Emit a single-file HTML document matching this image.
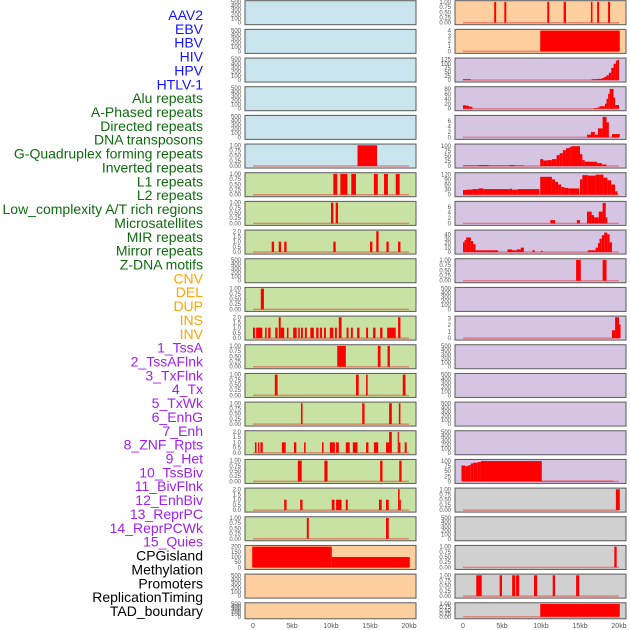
<!DOCTYPE html>
<html><head><meta charset="utf-8"><style>
html,body{margin:0;padding:0;background:#fff;width:630px;height:630px;overflow:hidden}
svg{display:block}
</style></head><body>
<svg id="chart" width="630" height="630" viewBox="0 0 630 630" xmlns="http://www.w3.org/2000/svg"></svg>
<script>
// ---- labels ----
const trackLabels = ["AAV2","EBV","HBV","HIV","HPV","HTLV-1","Alu repeats","A-Phased repeats","Directed repeats","DNA transposons","G-Quadruplex forming repeats","Inverted repeats","L1 repeats","L2 repeats","Low_complexity A/T rich regions","Microsatellites","MIR repeats","Mirror repeats","Z-DNA motifs","CNV","DEL","DUP","INS","INV","1_TssA","2_TssAFlnk","3_TxFlnk","4_Tx","5_TxWk","6_EnhG","7_Enh","8_ZNF_Rpts","9_Het","10_TssBiv","11_BivFlnk","12_EnhBiv","13_ReprPC","14_ReprPCWk","15_Quies","CPGisland","Methylation","Promoters","ReplicationTiming","TAD_boundary"];
const labelGroups = [6,13,5,15,5];
const groupColors = ["#1414ff","#0f6b0f","#ffa500","#a020f0","#000000"];
const xTickLabels = ["0","5kb","10kb","15kb","20kb"];
const xTickValues = [0,5,10,15,20];

// ---- tick label sets ----
const t01 = ["0.00","0.25","0.50","0.75","1.00"];
const t500 = ["0","100","200","300","400","500"];
const t02 = ["0.0","0.5","1.0","1.5","2.0"];
const t04 = ["0","1","2","3","4"];
const t125 = ["0","25","50","75","100","125"];
const t80 = ["0","20","40","60","80"];
const t6 = ["0","2","4","6"];
const t100 = ["0","25","50","75","100"];
const t120 = ["0","30","60","90","120"];
const t40 = ["0","10","20","30","40"];
const t3 = ["0","1","2","3"];
const t200 = ["0","50","100","150","200"];

// ---- data: [startKb, endKb, value] ----
const c1r5 = [[13.4,15.9,1]];
const c1r6 = [[10.3,10.8,1],[11.2,12.1,1],[12.6,13.2,1],[15.5,16,1],[16.8,17.3,1],[18.3,18.8,1]];
const c1r7 = [[10,10.3,1],[10.6,10.9,1]];
const c1r8 = [[2.4,2.7,1],[3.3,3.6,1],[4.0,4.3,1],[10.3,10.6,1],[15.0,15.3,1],[15.8,16.1,2],[17.1,17.4,1],[18.6,18.9,1]];
const c1r10 = [[1.0,1.4,1]];
const c1r11 = [[0,0.25,1],[0.4,1.2,1],[1.55,1.75,1],[1.95,2.25,1],[2.85,3.15,1],[3.3,3.55,2],[3.55,4.0,1],[4.35,4.55,1],[5.15,5.6,1],[5.8,6.0,1],[6.15,6.4,1],[6.65,6.9,1],[7.35,7.8,1],[8.1,8.4,1],[8.6,8.85,1],[9.1,9.35,1],[9.85,10.3,1],[10.5,10.75,1],[11.0,11.35,2],[12.0,12.25,1],[12.55,12.8,1],[13.35,13.65,1],[14.5,14.75,1],[15.4,15.7,1],[16.3,16.6,1],[17.2,18.3,1],[18.6,18.9,2]];
const c1r12 = [[10.8,11.9,1],[16.0,16.35,1],[17.25,17.55,1]];
const c1r13 = [[2.8,3.15,1],[13.2,13.55,1],[14.5,14.7,1],[19.2,19.55,1]];
const c1r14 = [[6.15,6.35,1],[14.0,14.3,1],[17.45,17.8,1],[18.7,18.9,1]];
const c1r15 = [[0.25,0.45,1],[0.65,0.8,1],[0.95,1.25,1],[3.7,4.2,1],[5.25,5.55,1],[6.55,6.75,1],[8.85,9.05,1],[9.85,10.5,1],[10.65,11.0,1],[11.9,12.4,1],[12.8,13.4,1],[14.5,14.8,1],[15.5,16.05,1],[17.05,17.45,1],[17.45,17.8,2],[18.55,18.7,2],[18.7,18.9,1],[19.45,19.7,1]];
const c1r16 = [[5.75,6.25,1],[9.15,9.55,1],[16.3,16.6,1],[18.75,19.05,1]];
const c1r17 = [[4.0,4.3,1],[6.05,6.35,1],[10.1,10.45,1],[10.65,11.35,1],[11.9,12.15,1],[16.15,16.5,1],[17.05,17.4,1],[18.6,18.8,2],[18.8,18.95,1]];
const c1r18 = [[6.9,7.15,1],[17.05,17.4,1]];
const c1r19 = [[-0.1,10.1,200],[10.1,20.1,100]];

const c2r0 = [[4.0,4.25,1],[5.3,5.55,1],[10.8,11.05,1],[12.9,13.2,1],[16.4,16.6,1],[17.2,17.45,1],[18.6,18.85,1]];
const c2r1 = [[9.9,20.1,4]];
const c2r2 = [[0,1,5],[16.5,17,5],[17,17.4,6],[17.4,17.8,8],[17.8,18.1,12],[18.1,18.4,20],[18.4,18.7,30],[18.7,19,45],[19,19.3,75],[19.3,19.6,100],[19.6,19.8,120],[19.8,20,125]];
const c2r3 = [[0,0.4,14],[0.4,0.8,12],[0.8,1.2,8],[16.8,17.2,3],[17.2,17.5,5],[17.5,18.2,10],[18.2,18.4,20],[18.4,18.6,40],[18.6,18.8,60],[18.8,19.3,80],[19.3,19.5,45],[19.5,20,15]];
const c2r4 = [[15.9,16.4,1],[16.4,16.9,2],[16.9,17.3,1],[17.3,17.9,3.3],[17.9,18.4,7.5],[18.4,18.7,5.5],[19.1,20.1,1.2]];
const c2r5 = [[0,2,3],[2,3.3,5],[3.3,6,3],[6,6.6,5],[6.6,7.8,3],[9.9,10.3,35],[10.3,10.8,28],[10.8,11.4,30],[11.4,12,35],[12,12.4,55],[12.4,12.8,65],[12.8,13.2,80],[13.2,13.6,90],[13.6,13.9,95],[13.9,15,100],[15,15.3,60],[15.3,15.6,30],[15.6,17.2,22],[17.2,17.8,15],[17.8,18.4,8]];
const c2r6 = [[0,0.5,28],[0.5,1.2,30],[1.2,2,33],[2,2.6,37],[2.6,6,33],[6,6.3,35],[6.3,7,30],[7,9.8,33],[9.9,11.4,105],[11.4,11.8,90],[11.8,12.2,75],[12.2,12.6,60],[12.6,13,45],[13,13.5,40],[13.5,14.9,37],[15,15.3,90],[15.3,16,115],[16,17,112],[17,18,118],[18,18.5,100],[18.5,19,85],[19,19.5,60],[19.5,19.8,20]];
const c2r7 = [[11.2,11.8,1.2],[14.6,15.0,1.2],[15.9,16.5,4.3],[16.5,16.8,3],[16.8,17.4,2.2],[17.4,17.9,4.3],[17.9,18.3,7.5],[18.3,18.5,2.2]];
const c2r8 = [[0,0.2,22],[0.2,0.4,27],[0.4,1.0,33],[1.0,1.3,25],[1.3,1.6,18],[1.6,4.5,4],[5.7,6.3,6],[6.3,6.9,4],[6.9,7.4,6],[7.4,7.8,10],[8.9,9.2,4],[10,10.2,3],[16,17,4],[17,17.3,10],[17.3,17.5,20],[17.5,17.8,30],[17.8,18.1,38],[18.1,18.5,44],[18.5,18.8,40],[18.8,19.1,22]];
const c2r9 = [[14.5,15.1,1],[17.9,18.4,1]];
const c2r11 = [[19.1,19.5,1.2],[19.5,20,3.2],[20,20.2,2.1]];
const c2r16 = [[-0.2,0.3,78],[0.3,0.7,75],[0.7,1,80],[1,1.3,88],[1.3,1.9,92],[1.9,2.3,95],[2.3,10.1,100],[10.1,19.3,3]];
const c2r17 = [[19.6,20.1,1]];
const c2r19 = [[19.4,19.7,1]];
const c2r20 = [[1.7,2.4,1],[4.7,5.0,1],[6.3,6.7,1],[6.8,7.2,1],[9.1,9.5,1],[11.5,11.8,1],[14.5,14.9,1]];
const c2r21 = [[9.9,20.1,1]];

// ---- panel specs ----
const BLUE="#c9e4ec", GREEN="#c7e2a3", ORANGE="#fecf9e", PURPLE="#d6c5e2", GRAY="#d0d0d0";
const col1 = [
 [BLUE,t500,500,null],[BLUE,t500,500,null],[BLUE,t500,500,null],[BLUE,t500,500,null],[BLUE,t500,500,null],[BLUE,t01,1,c1r5],
 [GREEN,t01,1,c1r6],[GREEN,t01,1,c1r7],[GREEN,t02,2,c1r8],[GREEN,t500,500,null],[GREEN,t01,1,c1r10],[GREEN,t02,2,c1r11],
 [GREEN,t01,1,c1r12],[GREEN,t01,1,c1r13],[GREEN,t01,1,c1r14],[GREEN,t02,2,c1r15],[GREEN,t01,1,c1r16],[GREEN,t02,2,c1r17],[GREEN,t01,1,c1r18],
 [ORANGE,t200,200,c1r19],[ORANGE,t500,500,null],[ORANGE,t500,500,null]
];
const col2 = [
 [ORANGE,t01,1,c2r0],[ORANGE,t04,4,c2r1],[PURPLE,t125,128,c2r2],[PURPLE,t80,84,c2r3],[PURPLE,t6,7.6,c2r4],[PURPLE,t100,105,c2r5],
 [PURPLE,t120,122,c2r6],[PURPLE,t6,7.6,c2r7],[PURPLE,t40,47,c2r8],[PURPLE,t01,1,c2r9],[PURPLE,t500,500,null],[PURPLE,t3,3.2,c2r11],
 [PURPLE,t500,500,null],[PURPLE,t500,500,null],[PURPLE,t500,500,null],[PURPLE,t500,500,null],[PURPLE,t100,102,c2r16],
 [GRAY,t01,1,c2r17],[GRAY,t500,500,null],[GRAY,t01,1,c2r19],[GRAY,t01,1,c2r20],[GRAY,t01,1,c2r21]
];

const NS="http://www.w3.org/2000/svg";
const svg=document.getElementById("chart");
function mk(tag,attrs,parent){const e=document.createElementNS(NS,tag);for(const k in attrs)e.setAttribute(k,attrs[k]);(parent||svg).appendChild(e);return e;}

// left labels
let li=0;
labelGroups.forEach((n,g)=>{for(let j=0;j<n;j++){
  const t=mk("text",{x:203,y:15+li*13.86,"text-anchor":"end","dominant-baseline":"central","font-family":"Liberation Sans, sans-serif","font-size":"14",fill:groupColors[g]});
  
  
  t.textContent=trackLabels[li];li++;}});

function drawColumn(specs,frameX,zeroX,colName){
  const xs=kb=>zeroX+kb*7.8;
  specs.forEach((s,i)=>{
    const [bg,ticks,max,data]=s;
    const top=0.7+i*28.67, h=(i===specs.length-1)?16:24;
    const g=mk("g",{});
    
    
    const y0=top+h-2, y1=top+1.2;
    const ys=v=>y0-(v/max)*(y0-y1);
    const r=mk("rect",{x:frameX,y:top,width:171,height:h,fill:bg,stroke:"#5a5a5a","stroke-width":1},g);
    
    
    ticks.forEach(tl=>{
      const v=parseFloat(tl);
      const t=mk("text",{x:frameX-4,y:ys(v)+2,"text-anchor":"end","font-family":"Liberation Sans, sans-serif","font-size":"6",fill:"#555"},g);
      
      
      t.textContent=tl;
    });
    if(data){
      const b=mk("line",{x1:xs(0),x2:xs(20),y1:y0,y2:y0,stroke:"rgba(230,40,40,0.45)","stroke-width":1.5},g);
      
      
      data.forEach(d=>{
        const bar=mk("rect",{x:xs(d[0]),y:ys(d[2]),width:Math.max(1.2,xs(d[1])-xs(d[0])),height:y0-ys(d[2]),fill:"#ff0000"},g);
        
        
      });
    }
  });
  xTickValues.forEach((v,k)=>{
    const t=mk("text",{x:xs(v),y:628,"text-anchor":"middle","font-family":"Liberation Sans, sans-serif","font-size":"7",fill:"#555"});
    
    
    t.textContent=xTickLabels[k];
  });
}
drawColumn(col1,245,253,"left");
drawColumn(col2,455,463,"right");
</script>
</body></html>
